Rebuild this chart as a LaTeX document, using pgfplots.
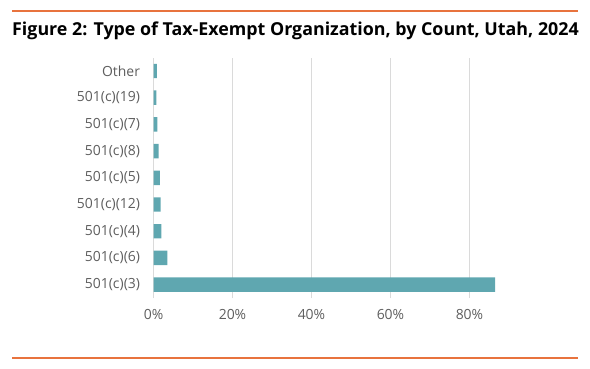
\documentclass[border=0pt]{standalone}
\usepackage{pgfplots}
\pgfplotsset{compat=1.18}
\usepackage{fontspec}
\setmainfont{Open Sans}
\definecolor{barc}{HTML}{5FA7B0}
\definecolor{orng}{HTML}{E8733E}
\definecolor{gridc}{HTML}{DADADA}
\definecolor{txt}{HTML}{5E5E5E}
\begin{document}
\begin{tikzpicture}[x=1bp,y=1bp]
\path[use as bounding box] (0,0) rectangle (590,368);
\draw[orng, line width=1.2bp] (12,357) -- (578,357);
\draw[orng, line width=1.2bp] (12,10) -- (578,10);
\node[anchor=west, inner sep=0pt, font=\fontsize{17.9}{20}\selectfont\bfseries, text=black] at (12,337) {Figure 2: Type of Tax-Exempt Organization, by Count, Utah, 2024};
\begin{axis}[
  at={(153.5bp,70bp)}, anchor=south west,
  scale only axis, width=343.6bp, height=240.4bp,
  xbar, bar width=14.4bp,
  xmin=0, xmax=87, ymin=-0.5, ymax=8.5,
  axis line style={draw=none},
  xtick={0,20,40,60,80},
  xticklabel={\pgfmathprintnumber{\tick}\%},
  ytick={0,...,8},
  yticklabels={501(c)(3),501(c)(6),501(c)(4),501(c)(12),501(c)(5),501(c)(8),501(c)(7),501(c)(19),Other},
  major tick length=0pt,
  xmajorgrids, grid style={gridc, line width=0.8bp},
  ticklabel style={text=txt, font=\fontsize{14}{16}\selectfont},
  /pgf/number format/assume math mode=true,
  xticklabel style={yshift=-8bp},
  yticklabel style={xshift=-10bp},
]
\addplot[fill=barc, draw=none] coordinates {
(86.5,0) (3.5,1) (2.0,2) (1.8,3) (1.6,4) (1.3,5) (0.95,6) (0.7,7) (0.85,8)};
\end{axis}
\end{tikzpicture}
\end{document}
